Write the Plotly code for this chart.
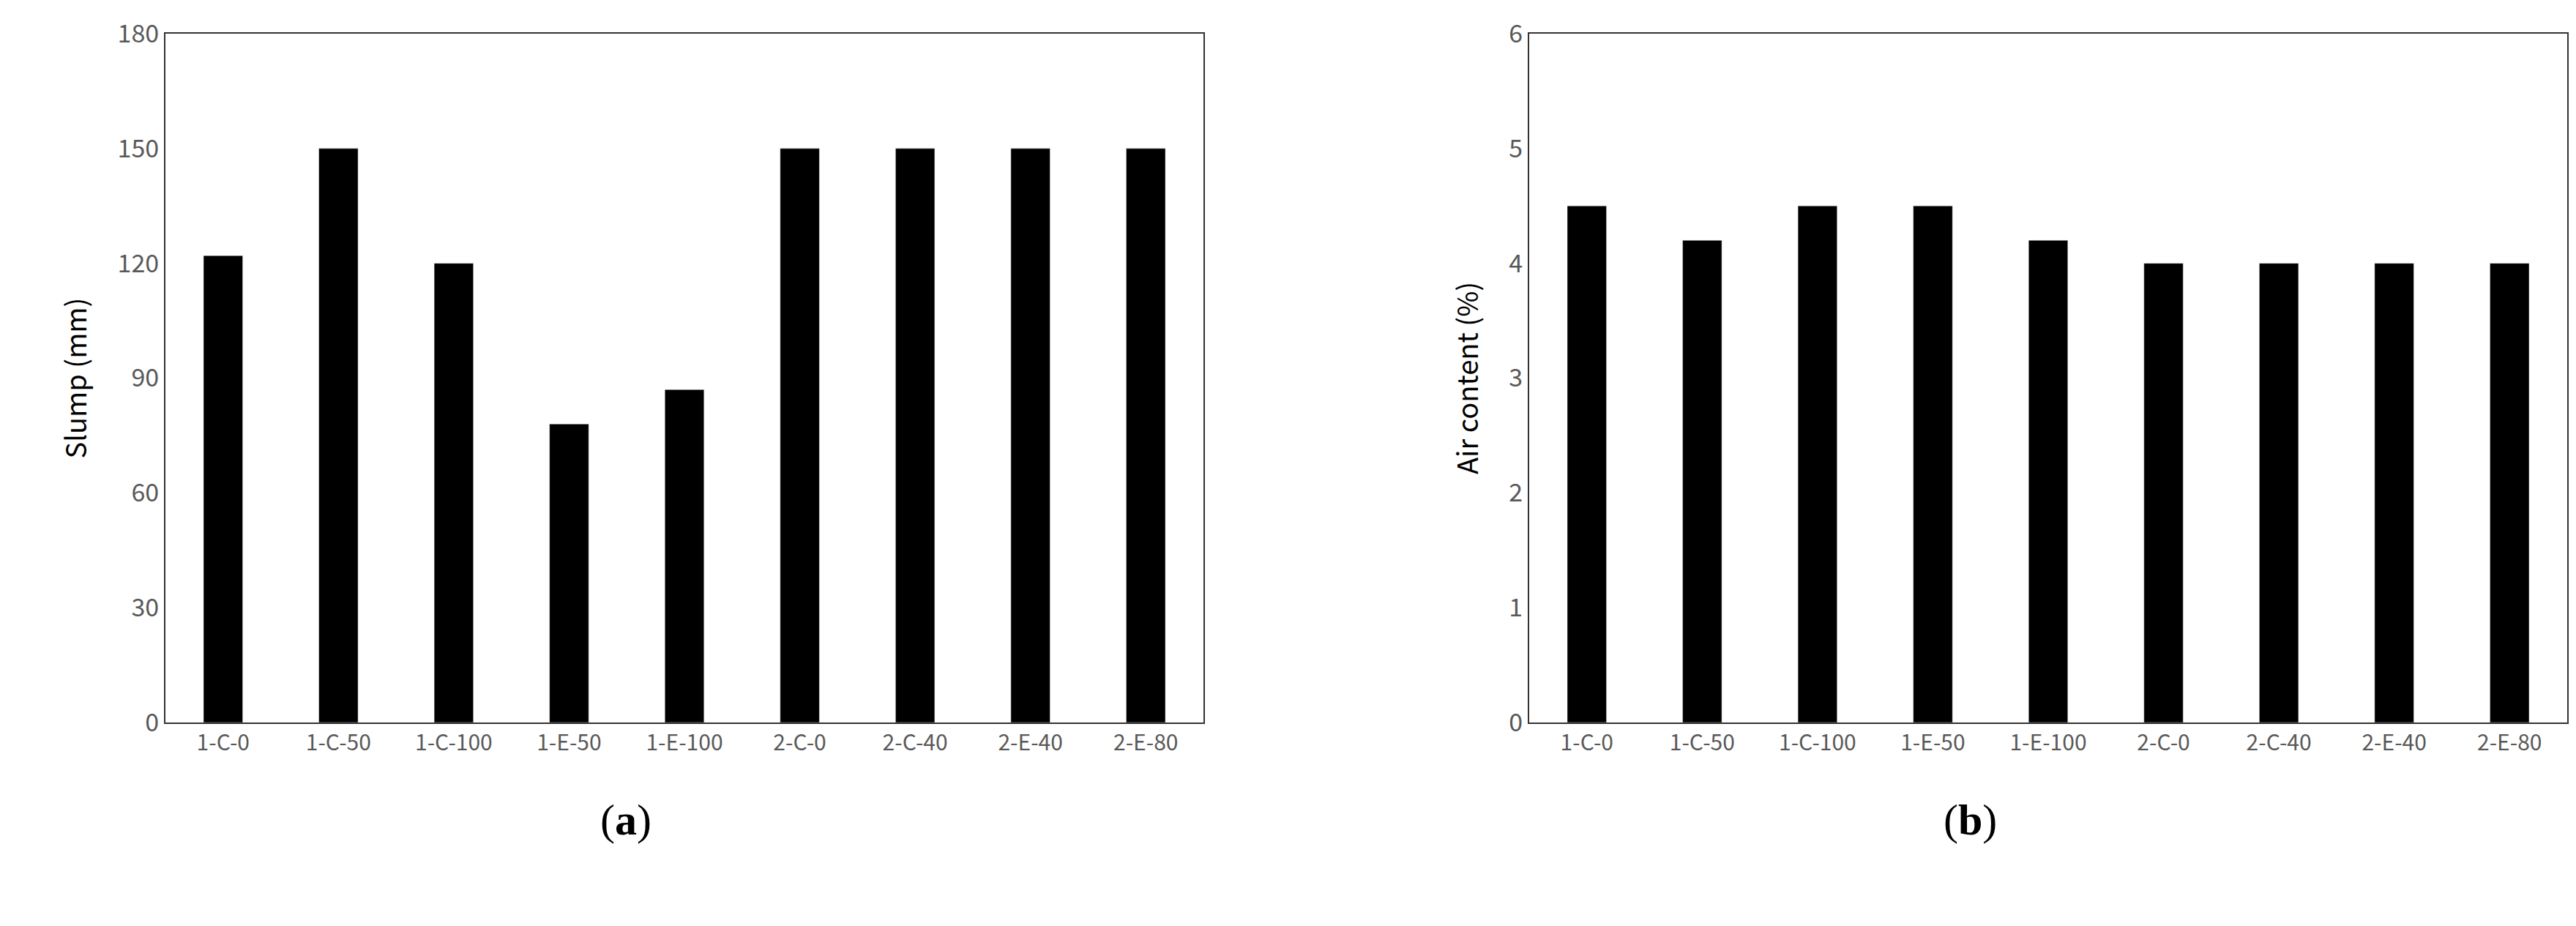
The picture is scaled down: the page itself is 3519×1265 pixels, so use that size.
import plotly.graph_objects as go
from plotly.subplots import make_subplots

categories = ["1-C-0","1-C-50","1-C-100","1-E-50","1-E-100","2-C-0","2-C-40","2-E-40","2-E-80"]
slump = [122,150,120,78,87,150,150,150,150]
air = [4.5,4.2,4.5,4.5,4.2,4.0,4.0,4.0,4.0]

fig = make_subplots(rows=1, cols=2, horizontal_spacing=0.127)
fig.add_trace(go.Bar(x=categories, y=slump, marker_color="black", width=0.34), 1, 1)
fig.add_trace(go.Bar(x=categories, y=air, marker_color="black", width=0.34), 1, 2)

W, H = 3519, 1265
L, R, T, B = 218, 3519-3499, 38, H-979
fig.update_layout(width=W, height=H, margin=dict(l=L, r=R, t=T, b=B),
                  plot_bgcolor="white", paper_bgcolor="white", showlegend=False,
                  font=dict(family="Noto Sans CJK KR", color="#595959"))
# domains
x1 = (0, (1636-218)/(3499-218))
x2 = ((2081-218)/(3499-218), 1)
fig.update_xaxes(showline=True, mirror=True, linecolor="#333", linewidth=2, ticks="",
                 tickfont=dict(size=30, color="#595959", family="Noto Sans CJK KR"))
fig.update_layout(xaxis=dict(domain=x1), xaxis2=dict(domain=x2))
fig.update_yaxes(showline=True, mirror=True, linecolor="#333", linewidth=2, showgrid=False,
                 ticks="", zeroline=False,
                 tickfont=dict(size=34, color="#595959", family="Noto Sans CJK KR"))
fig.update_yaxes(range=[0,180], dtick=30, row=1, col=1,
                 title=dict(text="Slump (mm)", font=dict(size=38, color="black"), standoff=30))
fig.update_yaxes(range=[0,6], dtick=1, row=1, col=2,
                 title=dict(text="Air content (%)", font=dict(size=38, color="black"), standoff=30))
for x, t in [(810, "(<b>a</b>)"), (2722, "(<b>b</b>)")]:
    fig.add_annotation(x=(x-L)/(W-L-R), y=(H-B-1147)/(H-T-B), xref="paper", yref="paper",
                       text=t, showarrow=False,
                       font=dict(family="Liberation Serif", size=60, color="black"))
fig.write_html("out.html")
